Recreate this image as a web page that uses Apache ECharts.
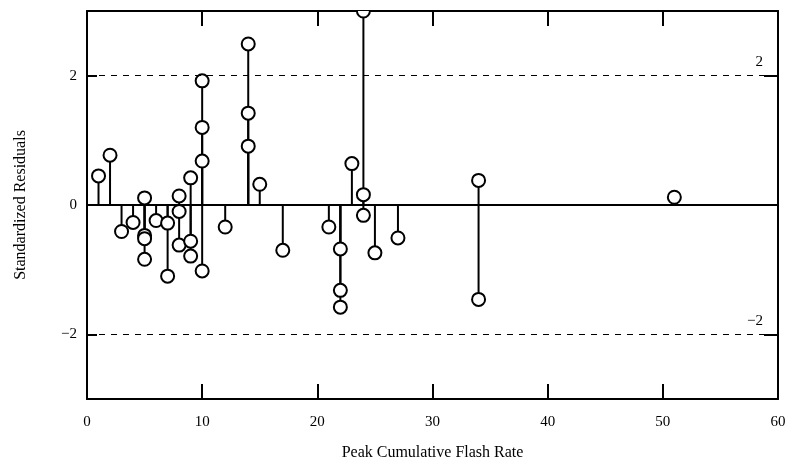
<!DOCTYPE html>
<html>
<head>
<meta charset="utf-8">
<script src="https://cdn.jsdelivr.net/npm/echarts@6/dist/echarts.min.js"></script>
<style>
  html, body { margin: 0; padding: 0; background: #fff; }
  #chart { width: 792px; height: 466px; }
</style>
</head>
<body>
<div id="chart"></div>
<script>
// Data
const flashRate = [1, 2, 3, 4, 5, 5, 5, 5, 6, 7, 7, 8, 8, 8, 9, 9, 9,
  10, 10, 10, 10, 12, 14, 14, 14, 15, 17, 21, 22, 22, 22, 23, 24, 24, 24, 25, 27, 34, 34, 51];
const residuals = [0.45, 0.77, -0.41, -0.27, 0.11, -0.47, -0.52, -0.84, -0.24, -0.28, -1.10, 0.14, -0.10, -0.62,
  0.42, -0.56, -0.79, 1.92, 1.20, 0.68, -1.02, -0.34, 2.49, 1.42, 0.91, 0.32, -0.70, -0.34,
  -0.68, -1.32, -1.58, 0.64, 3.0, 0.16, -0.16, -0.74, -0.51, 0.38, -1.46, 0.12];
const xTicks = [10, 20, 30, 40, 50];
const yTicks = [-2, 0, 2];
const refLevels = [2, -2];

(function () {
    'use strict';

    const chart = echarts.init(document.getElementById('chart'));
    const points = flashRate.map((x, i) => [x, residuals[i]]);
    const font = 'Liberation Serif';
    const fmt = v => (v < 0 ? '\u2212' + Math.abs(v) : String(v));

    const option = {
        animation: false,
        backgroundColor: '#fff',
        grid: { left: 87, right: 14, top: 11, bottom: 67 },
        xAxis: [
            {
                type: 'value', min: 0, max: 60, interval: 10,
                name: 'Peak Cumulative Flash Rate', nameLocation: 'middle', nameGap: 46,
                nameTextStyle: { fontFamily: font, fontSize: 16, color: '#000' },
                axisLine: { onZero: false, lineStyle: { color: '#000', width: 2 } },
                axisTick: { inside: true, length: 15, customValues: xTicks, lineStyle: { color: '#000', width: 2 } },
                axisLabel: { margin: 16, fontFamily: font, fontSize: 15, color: '#000' },
                splitLine: { show: false }
            },
            {
                type: 'value', min: 0, max: 60, interval: 10, position: 'top',
                axisLine: { onZero: false, lineStyle: { color: '#000', width: 2 } },
                axisTick: { inside: true, length: 15, customValues: xTicks, lineStyle: { color: '#000', width: 2 } },
                axisLabel: { show: false },
                splitLine: { show: false }
            }
        ],
        yAxis: [
            {
                type: 'value', min: -3, max: 3, interval: 1,
                name: 'Standardized Residuals', nameLocation: 'middle', nameGap: 58,
                nameTextStyle: { fontFamily: font, fontSize: 16, color: '#000' },
                axisLine: { onZero: false, lineStyle: { color: '#000', width: 2 } },
                axisTick: { inside: true, length: 10, customValues: yTicks, lineStyle: { color: '#000', width: 2 } },
                axisLabel: {
                    margin: 10, fontFamily: font, fontSize: 15, color: '#000',
                    customValues: yTicks, formatter: fmt
                },
                splitLine: { show: false }
            },
            {
                type: 'value', min: -3, max: 3, interval: 1, position: 'right',
                axisLine: { onZero: false, lineStyle: { color: '#000', width: 2 } },
                axisTick: { inside: true, length: 14, customValues: refLevels, lineStyle: { color: '#000', width: 2 } },
                axisLabel: { show: false },
                splitLine: { show: false }
            }
        ],
        series: [
            {
                // stems from zero to each residual
                type: 'custom',
                clip: true,
                silent: true,
                data: points,
                renderItem: (params, api) => {
                    const p0 = api.coord([api.value(0), 0]);
                    const p1 = api.coord([api.value(0), api.value(1)]);
                    return {
                        type: 'line',
                        shape: { x1: p0[0], y1: p0[1], x2: p1[0], y2: p1[1] },
                        style: { stroke: '#000', lineWidth: 2 }
                    };
                },
                markLine: {
                    silent: true,
                    symbol: 'none',
                    animation: false,
                    data: [
                        { yAxis: 0, lineStyle: { type: 'solid', width: 2, color: '#000' }, label: { show: false } },
                        ...refLevels.map(v => ({
                            yAxis: v,
                            lineStyle: { type: [6, 6], width: 1, color: '#000' },
                            label: {
                                show: true, position: 'insideEndTop', distance: [15, 6],
                                formatter: fmt(v),
                                fontFamily: font, fontSize: 15, color: '#000'
                            }
                        }))
                    ]
                }
            },
            {
                // open circles, clipped at the frame
                type: 'custom',
                clip: true,
                silent: true,
                data: points,
                z: 3,
                renderItem: (params, api) => {
                    const p = api.coord([api.value(0), api.value(1)]);
                    return {
                        type: 'circle',
                        shape: { cx: p[0], cy: p[1], r: 6.5 },
                        style: { fill: '#fff', stroke: '#000', lineWidth: 2 }
                    };
                }
            }
        ]
    };

    chart.setOption(option);
})();
</script>
</body>
</html>
